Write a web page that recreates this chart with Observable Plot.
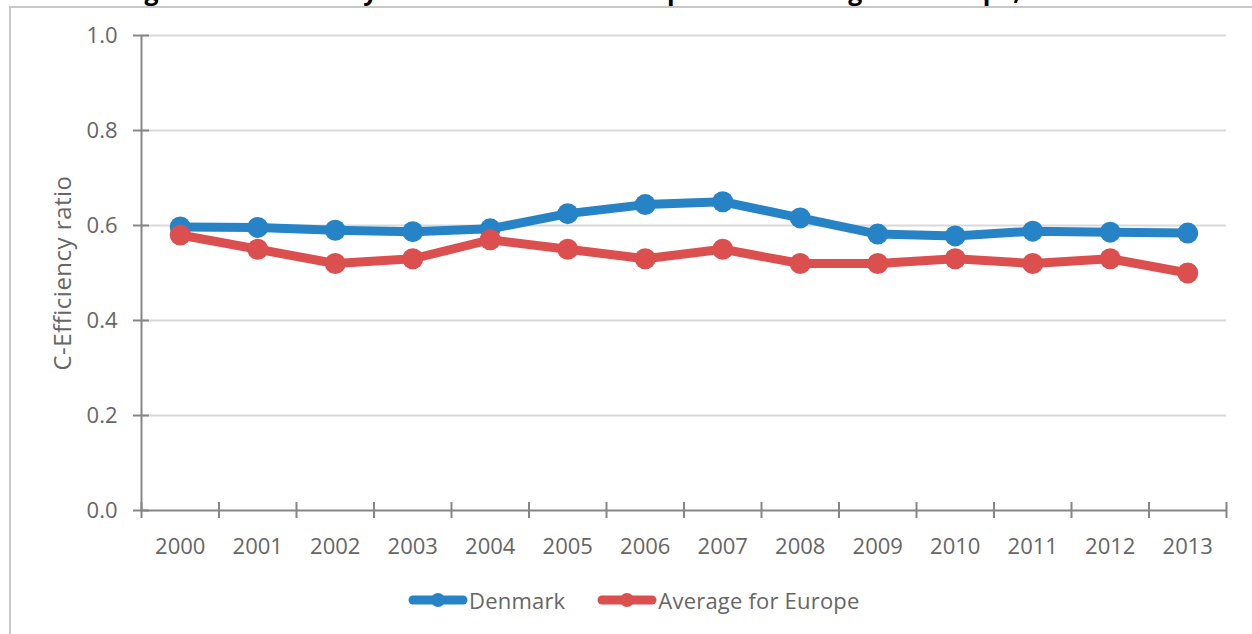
<!DOCTYPE html>
<html>
<head>
<meta charset="utf-8">
<script src="https://cdn.jsdelivr.net/npm/d3@7"></script>
<script src="https://cdn.jsdelivr.net/npm/@observablehq/plot@0.6"></script>
<style>
html, body { margin: 0; padding: 0; background: #fff; }
body { width: 1252px; height: 634px; overflow: hidden; position: relative; font-family: "Open Sans", sans-serif; }
#frame { position: absolute; left: 9px; top: 6px; width: 1400px; height: 800px; border: 2px solid #c8c8c8; box-sizing: border-box; }
#title { position: absolute; left: 0; top: 0; white-space: nowrap; font-weight: bold; color: #000; line-height: 1; font-size: 24px; }
#chart { position: absolute; left: 0; top: 0; }
#legend { position: absolute; left: 408px; top: 575px; height: 50px; display: flex; align-items: center; font-size: 22px; color: #666; }
.item { display: flex; align-items: center; }
.item + .item { margin-left: 32px; }
.item span { margin-left: 1px; letter-spacing: 0.2px; }
</style>
</head>
<body>
<div id="frame"></div>
<div id="title"></div>
<div id="chart"></div>
<div id="legend"></div>
<script>
// ---- data ----
const titleText = "Figure 2: C-Efficiency ratio for Denmark compared to average for Europe, 2000-2013";
const years = [2000, 2001, 2002, 2003, 2004, 2005, 2006, 2007, 2008, 2009, 2010, 2011, 2012, 2013];
const denmark = [0.597, 0.596, 0.590, 0.587, 0.593, 0.625, 0.644, 0.650, 0.616, 0.582, 0.578, 0.588, 0.586, 0.584];
const europe  = [0.58, 0.55, 0.52, 0.53, 0.57, 0.55, 0.53, 0.55, 0.52, 0.52, 0.53, 0.52, 0.53, 0.50];
const seriesNames = ["Denmark", "Average for Europe"];
const seriesColors = ["#2683c6", "#dc4f4f"];
const yTicks = [0, 0.2, 0.4, 0.6, 0.8, 1.0];
const yLabel = "C-Efficiency ratio";

// ---- build ----
const data = years.flatMap((yr, i) => [
  {year: yr, value: denmark[i], series: seriesNames[0]},
  {year: yr, value: europe[i], series: seriesNames[1]}
]);
const bounds = d3.range(years.length + 1).map(i => years[0] - 0.5 + i);
const axisGray = "#868686";

const seriesMarks = seriesNames.flatMap(name => {
  const d = data.filter(r => r.series === name);
  return [
    Plot.line(d, {x: "year", y: "value", stroke: "series", strokeWidth: 9, strokeLinejoin: "round", strokeLinecap: "round"}),
    Plot.dot(d, {x: "year", y: "value", fill: "series", r: 10.5, stroke: "none"})
  ];
});

const chart = Plot.plot({
  width: 1252,
  height: 575,
  marginLeft: 141,
  marginRight: 26,
  marginTop: 35,
  marginBottom: 65,
  style: {fontFamily: "Open Sans, sans-serif", fontSize: "22px", color: "#666", background: "transparent"},
  x: {domain: [bounds[0], bounds[bounds.length - 1]]},
  y: {domain: [0, 1]},
  color: {domain: seriesNames, range: seriesColors},
  marks: [
    Plot.ruleY(yTicks.filter(d => d > 0), {stroke: "#d9d9d9", strokeWidth: 2}),
    Plot.ruleX([bounds[0]], {stroke: axisGray, strokeWidth: 2}),
    Plot.ruleY([0], {stroke: axisGray, strokeWidth: 2}),
    Plot.ruleX(bounds, {y1: 0, y2: 0, insetTop: -8, insetBottom: -8, stroke: axisGray, strokeWidth: 2}),
    Plot.ruleY(yTicks, {x1: bounds[0], x2: bounds[0], insetLeft: -8, insetRight: -8, stroke: axisGray, strokeWidth: 2}),
    Plot.axisY({ticks: yTicks, tickSize: 0, tickPadding: 24, tickFormat: d3.format(".1f"), label: null, fill: "#666"}),
    Plot.axisX({ticks: years, tickSize: 0, tickPadding: 28, tickFormat: d => String(d), label: null, fill: "#666"}),
    Plot.text([yLabel], {frameAnchor: "left", textAnchor: "middle", lineAnchor: "middle", rotate: -90, dx: -78, fontSize: 24, fill: "#666", style: "letter-spacing:0.5px"}),
    ...seriesMarks
  ]
});
document.getElementById("chart").appendChild(chart);
chart.querySelectorAll("text").forEach(el => { if (el.textContent === yLabel) el.style.letterSpacing = "0.5px"; });

// ---- legend ----
const legend = document.getElementById("legend");
seriesNames.forEach((name, i) => {
  const item = document.createElement("div");
  item.className = "item";
  item.innerHTML = `<svg width="60" height="20"><line x1="5" x2="55" y1="10" y2="10" stroke="${seriesColors[i]}" stroke-width="9" stroke-linecap="round"/><circle cx="30" cy="10" r="7" fill="${seriesColors[i]}"/></svg><span>${name}</span>`;
  legend.appendChild(item);
});

// ---- title (cut off at the top, as in the source) ----
const t = document.getElementById("title");
t.textContent = titleText;
function charX(idx) {
  const r = document.createRange();
  r.setStart(t.firstChild, idx); r.setEnd(t.firstChild, idx + 1);
  const b = r.getBoundingClientRect();
  return (b.left + b.right) / 2;
}
const gi = titleText.indexOf("g"), ci = titleText.indexOf(",");
let fs = 24;
const d0 = charX(ci) - charX(gi);
fs = fs * (1017 - 151.5) / d0;
t.style.fontSize = fs + "px";
t.style.left = (151.5 - charX(gi)) + "px";
const probe = document.createElement("span");
probe.style.cssText = "display:inline-block;height:0;width:0;vertical-align:baseline;";
t.appendChild(probe);
const base = probe.getBoundingClientRect().top - t.getBoundingClientRect().top;
t.style.top = (-base + 0) + "px";
</script>
</body>
</html>
